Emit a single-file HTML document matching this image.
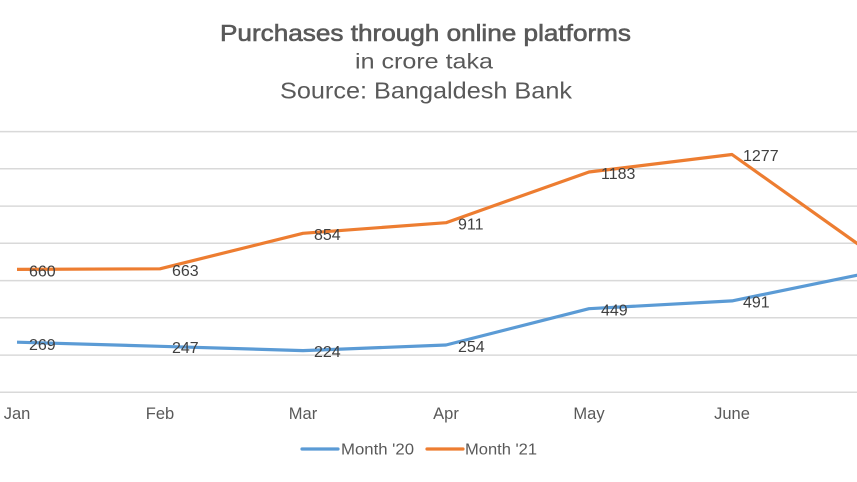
<!DOCTYPE html>
<html>
<head>
<meta charset="utf-8">
<style>
html,body{margin:0;padding:0;background:#fff;}
svg{display:block;}
text{font-family:"Liberation Sans",Arial,sans-serif;}
</style>
</head>
<body>
<svg width="857" height="482" viewBox="0 0 857 482" xmlns="http://www.w3.org/2000/svg">
<rect width="857" height="482" fill="#fff"/>
<!-- Title -->
<text x="425.5" y="41" text-anchor="middle" font-size="23" fill="#595959" stroke="#595959" stroke-width="0.6" textLength="411" lengthAdjust="spacingAndGlyphs">Purchases through online platforms</text>
<text x="424" y="68.5" text-anchor="middle" font-size="21" fill="#595959" textLength="138" lengthAdjust="spacingAndGlyphs">in crore taka</text>
<text x="426" y="98.5" text-anchor="middle" font-size="23" fill="#595959" textLength="292" lengthAdjust="spacingAndGlyphs">Source: Bangaldesh Bank</text>
<!-- Gridlines -->
<g stroke="#d9d9d9" stroke-width="1.5">
<line x1="0" x2="857" y1="131.6" y2="131.6"/>
<line x1="0" x2="857" y1="168.8" y2="168.8"/>
<line x1="0" x2="857" y1="206.1" y2="206.1"/>
<line x1="0" x2="857" y1="243.3" y2="243.3"/>
<line x1="0" x2="857" y1="280.6" y2="280.6"/>
<line x1="0" x2="857" y1="317.8" y2="317.8"/>
<line x1="0" x2="857" y1="355.1" y2="355.1"/>
<line x1="0" x2="857" y1="392.3" y2="392.3"/>
</g>
<!-- Series -->
<polyline fill="none" stroke="#5b9bd5" stroke-width="3.2" stroke-linejoin="round" points="17,342.2 160,346.3 303,350.6 446,345.0 589,308.7 732,300.9 875,271.6"/>
<polyline fill="none" stroke="#ed7d31" stroke-width="3.2" stroke-linejoin="round" points="17,269.4 160,268.8 303,233.3 446,222.7 589,172.0 732,154.5 875,256.2"/>
<!-- Data labels -->
<g font-size="16" fill="#404040">
<text x="29" y="276.5">660</text>
<text x="172" y="276">663</text>
<text x="314" y="240">854</text>
<text x="458" y="229.5">911</text>
<text x="601" y="179">1183</text>
<text x="743" y="161">1277</text>
<text x="29" y="350">269</text>
<text x="172" y="353">247</text>
<text x="314" y="357">224</text>
<text x="458" y="352">254</text>
<text x="601" y="315.5">449</text>
<text x="743" y="307.5">491</text>
</g>
<!-- X axis labels -->
<g font-size="16.5" fill="#595959" text-anchor="middle">
<text x="17" y="419">Jan</text>
<text x="160" y="419">Feb</text>
<text x="303" y="419">Mar</text>
<text x="446" y="419">Apr</text>
<text x="589" y="419">May</text>
<text x="732" y="419">June</text>
</g>
<!-- Legend -->
<line x1="302" x2="338" y1="449" y2="449" stroke="#5b9bd5" stroke-width="3.2" stroke-linecap="round"/>
<text x="341" y="454.5" font-size="16" fill="#595959" textLength="73" lengthAdjust="spacingAndGlyphs">Month '20</text>
<line x1="427" x2="463" y1="449" y2="449" stroke="#ed7d31" stroke-width="3.2" stroke-linecap="round"/>
<text x="465" y="454.5" font-size="16" fill="#595959" textLength="72" lengthAdjust="spacingAndGlyphs">Month '21</text>
</svg>
</body>
</html>
